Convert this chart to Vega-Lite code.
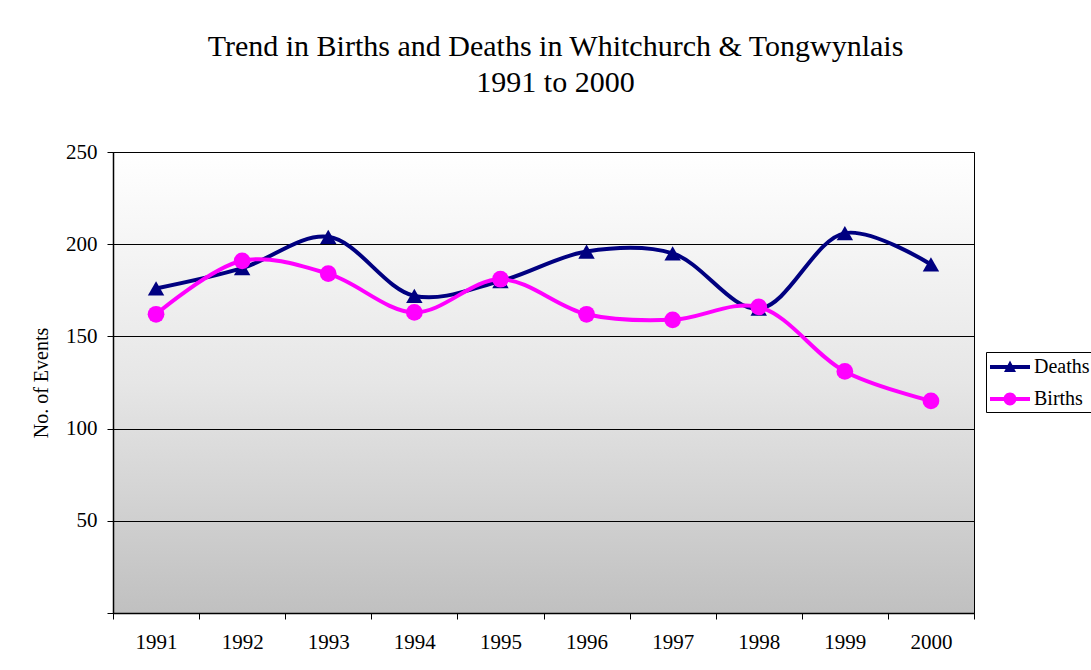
{
  "$schema": "https://vega.github.io/schema/vega-lite/v6.json",
  "autosize": {"type": "none"},
  "width": 861,
  "height": 461,
  "padding": {"left": 113, "top": 152, "right": 117, "bottom": 57},
  "background": "white",
  "title": {
    "text": ["Trend in Births and Deaths in Whitchurch & Tongwynlais", "1991 to 2000"],
    "font": "Times New Roman",
    "fontSize": 30,
    "fontWeight": "normal",
    "color": "black",
    "lineHeight": 36,
    "anchor": "middle",
    "dx": 12,
    "offset": 43
  },
  "config": {
    "font": "Times New Roman",
    "title": {"font": "Times New Roman"},
    "legend": {"labelFont": "Times New Roman"},
    "view": {
      "stroke": "black",
      "strokeWidth": 1,
      "fill": {"gradient": "linear", "x1": 0, "y1": 0, "x2": 0, "y2": 1,
        "stops": [{"offset": 0, "color": "#ffffff"}, {"offset": 0.5, "color": "#e6e6e6"}, {"offset": 1, "color": "#c0c0c0"}]}
    },
    "axis": {"labelFont": "Times New Roman", "titleFont": "Times New Roman", "labelColor": "black", "titleColor": "black", "domainColor": "black", "tickColor": "black"}
  },
  "data": {
    "values": [
      {"year": "1991", "series": "Deaths", "value": 176},
      {"year": "1992", "series": "Deaths", "value": 187},
      {"year": "1993", "series": "Deaths", "value": 204},
      {"year": "1994", "series": "Deaths", "value": 172},
      {"year": "1995", "series": "Deaths", "value": 180},
      {"year": "1996", "series": "Deaths", "value": 196},
      {"year": "1997", "series": "Deaths", "value": 195},
      {"year": "1998", "series": "Deaths", "value": 165},
      {"year": "1999", "series": "Deaths", "value": 206},
      {"year": "2000", "series": "Deaths", "value": 189},
      {"year": "1991", "series": "Births", "value": 162},
      {"year": "1992", "series": "Births", "value": 191},
      {"year": "1993", "series": "Births", "value": 184},
      {"year": "1994", "series": "Births", "value": 163},
      {"year": "1995", "series": "Births", "value": 181},
      {"year": "1996", "series": "Births", "value": 162},
      {"year": "1997", "series": "Births", "value": 159},
      {"year": "1998", "series": "Births", "value": 166},
      {"year": "1999", "series": "Births", "value": 131},
      {"year": "2000", "series": "Births", "value": 115}
    ]
  },
  "encoding": {
    "x": {
      "field": "year", "type": "ordinal",
      "scale": {"paddingInner": 0, "paddingOuter": 0},
      "axis": {"title": null, "labelAngle": 0, "labelFontSize": 21, "labelPadding": 12, "tickSize": 6, "tickBand": "extent", "domainWidth": 1.5, "grid": false}
    },
    "y": {
      "field": "value", "type": "quantitative",
      "scale": {"domain": [0, 250], "nice": false},
      "axis": {"title": "No. of Events", "titleFontSize": 20, "titleFontWeight": "normal", "titlePadding": 14, "labelFontSize": 21, "labelPadding": 10, "tickSize": 6, "values": [0, 50, 100, 150, 200, 250], "labelExpr": "datum.value === 0 ? '' : datum.label", "grid": true, "gridColor": "black", "gridWidth": 1, "domainWidth": 1.5}
    },
    "color": {
      "field": "series", "type": "nominal",
      "scale": {"domain": ["Deaths", "Births"], "range": ["#000080", "#ff00ff"]},
      "legend": {
        "title": null,
        "orient": "none",
        "legendX": 873,
        "legendY": 200,
        "labelFont": "Times New Roman",
        "labelFontSize": 20,
        "labelColor": "black",
        "strokeColor": "black",
        "fillColor": "white",
        "padding": 3,
        "symbolSize": 576,
        "symbolOffset": 9,
        "labelOffset": 12,
        "rowPadding": 10,
        "symbolStrokeWidth": 0,
        "encode": {
          "symbols": {
            "update": {
              "shape": {"signal": "datum.value === 'Deaths' ? 'M-1.667,-0.167H1.667V0.167H-1.667Z M0,-0.55L0.5,0.42L-0.5,0.42Z' : 'M-1.667,-0.167H1.667V0.167H-1.667Z M0.54,0A0.54,0.54 0 1,1 -0.54,0A0.54,0.54 0 1,1 0.54,0Z'"},
              "fill": {"signal": "datum.value === 'Deaths' ? '#000080' : '#ff00ff'"},
              "size": {"value": 576},
              "strokeWidth": {"value": 0},
              "opacity": {"value": 1},
              "fillOpacity": {"value": 1}
            }
          }
        }
      }
    }
  },
  "layer": [
    {
      "mark": {"type": "line", "interpolate": "catmull-rom", "strokeWidth": 4}
    },
    {
      "transform": [{"filter": "datum.series === 'Deaths'"}],
      "mark": {"type": "point", "filled": true, "opacity": 1, "shape": "triangle-up", "size": 270}
    },
    {
      "transform": [{"filter": "datum.series === 'Births'"}],
      "mark": {"type": "point", "filled": true, "opacity": 1, "shape": "circle", "size": 280}
    }
  ]
}
